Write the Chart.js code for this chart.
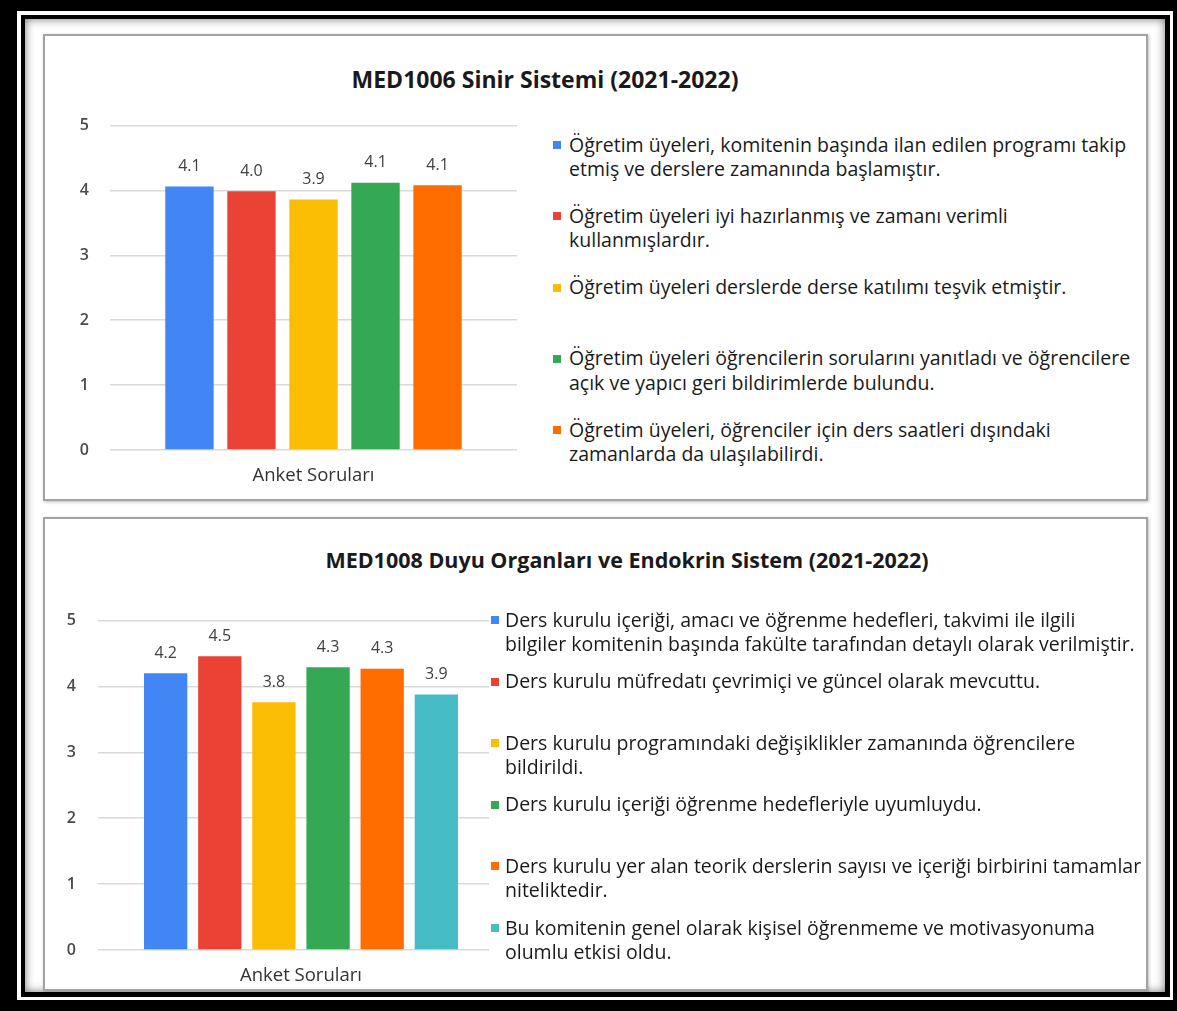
<!DOCTYPE html>
<html>
<head>
<meta charset="utf-8">
<script src="https://cdn.jsdelivr.net/npm/chart.js@4.4.1/dist/chart.umd.min.js"></script>
<style>
  html, body { margin:0; padding:0; }
  body { width:1177px; height:1011px; background:#000; position:relative; overflow:hidden; font-family: "Open Sans", Lato, sans-serif; }
  .abs { position:absolute; }
  .frame1 { left:17px; top:11px; width:1156px; height:989px; background:#fff; }
  .frame2 { left:21px; top:15px; width:1149px; height:982px; background:#000; }
  .inner { left:25px; top:19px; width:1140px; height:973px; background:#fff; box-shadow: inset 0 0 10px rgba(0,0,0,0.55); }
  .panel { box-sizing:border-box; border:2px solid #a3a3a3; background:#fff; box-shadow: 1px 1px 3px rgba(0,0,0,0.25); }
  .title { font-weight:700; color:#1a1a1a; white-space:nowrap; transform:translateX(-50%); }
  .leg { font-size:19.5px; color:#1a1a1a; white-space:pre; line-height:24.5px; }
  .sq { width:8px; height:8px; }
</style>
</head>
<body>
<div class="abs frame1"></div>
<div class="abs frame2"></div>
<div class="abs inner"></div>
<div class="abs panel" style="left:43px;top:34px;width:1105px;height:467px;"></div>
<div class="abs panel" style="left:43px;top:517px;width:1105px;height:474px;"></div>

<div class="abs title" id="t1" style="left:545px;top:63px;font-size:23px;"></div>
<div class="abs title" id="t2" style="left:627px;top:545px;font-size:21.5px;"></div>

<canvas id="c1" class="abs" style="left:45px;top:95px;" width="490" height="400"></canvas>
<canvas id="c2" class="abs" style="left:45px;top:589px;" width="480" height="396"></canvas>

<div class="abs" style="left:489px;top:600px;width:40px;height:380px;background:#fff;"></div>
<div id="leg1"></div>
<div id="leg2"></div>

<script>
// ---- Data ----
const title1 = "MED1006 Sinir Sistemi (2021-2022)";
const title2 = "MED1008 Duyu Organları ve Endokrin Sistem (2021-2022)";
const categoryLabel = ["Anket Soruları"];
const yTicks = [0, 1, 2, 3, 4, 5];

const questions1 = [
  "Öğretim üyeleri, komitenin başında ilan edilen programı takip\netmiş ve derslere zamanında başlamıştır.",
  "Öğretim üyeleri iyi hazırlanmış ve zamanı verimli\nkullanmışlardır.",
  "Öğretim üyeleri derslerde derse katılımı teşvik etmiştir.",
  "Öğretim üyeleri öğrencilerin sorularını yanıtladı ve öğrencilere\naçık ve yapıcı geri bildirimlerde bulundu.",
  "Öğretim üyeleri, öğrenciler için ders saatleri dışındaki\nzamanlarda da ulaşılabilirdi."
];
const values1 = [4.06, 3.99, 3.86, 4.12, 4.08];

const questions2 = [
  "Ders kurulu içeriği, amacı ve öğrenme hedefleri, takvimi ile ilgili\nbilgiler komitenin başında fakülte tarafından detaylı olarak verilmiştir.",
  "Ders kurulu müfredatı çevrimiçi ve güncel olarak mevcuttu.",
  "Ders kurulu programındaki değişiklikler zamanında öğrencilere\nbildirildi.",
  "Ders kurulu içeriği öğrenme hedefleriyle uyumluydu.",
  "Ders kurulu yer alan teorik derslerin sayısı ve içeriği birbirini tamamlar\nniteliktedir.",
  "Bu komitenin genel olarak kişisel öğrenmeme ve motivasyonuma\nolumlu etkisi oldu."
];
const values2 = [4.20, 4.46, 3.76, 4.29, 4.27, 3.88];

const colors = ["#4285F4", "#EA4335", "#FBBC04", "#34A853", "#FF6D01", "#46BDC6"];

// ---- Titles ----
document.getElementById('t1').textContent = title1;
document.getElementById('t2').textContent = title2;

// ---- Legends (HTML) ----
function buildLegend(id, texts, sqLeft, textLeft, firstY, step) {
  const host = document.getElementById(id);
  texts.forEach((t, i) => {
    const y = firstY + i * step;
    const sq = document.createElement('div');
    sq.className = 'abs sq';
    sq.style.left = sqLeft + 'px';
    sq.style.top = (y - 4) + 'px';
    sq.style.background = colors[i];
    host.appendChild(sq);
    const tx = document.createElement('div');
    tx.className = 'abs leg';
    tx.style.left = textLeft + 'px';
    tx.style.top = (y - 12.5) + 'px';
    tx.textContent = t;
    host.appendChild(tx);
  });
}

const FONT = '"Open Sans", Lato, sans-serif';

// ---- Data labels plugin ----
const valueLabels = {
  id: 'valueLabels',
  afterDatasetsDraw(chart) {
    const ctx = chart.ctx;
    ctx.save();
    ctx.font = '16px ' + FONT;
    ctx.fillStyle = '#404040';
    ctx.textAlign = 'center';
    ctx.textBaseline = 'middle';
    chart.data.datasets.forEach((ds, i) => {
      const meta = chart.getDatasetMeta(i);
      meta.data.forEach((bar, j) => {
        ctx.fillText(ds.data[j].toFixed(1), bar.x, bar.y - 20);
      });
    });
    ctx.restore();
  }
};

function makeChart(canvasId, texts, values, opt) {
  const datasets = values.map((v, i) => ({
    label: texts[i],
    data: [v],
    backgroundColor: colors[i],
    borderWidth: 0,
    categoryPercentage: opt.catPct,
    barPercentage: opt.barPct
  }));
  return new Chart(document.getElementById(canvasId), {
    type: 'bar',
    data: { labels: categoryLabel, datasets },
    plugins: [valueLabels],
    options: {
      responsive: false,
      animation: false,
      events: [],
      layout: { padding: { left: 0, right: opt.padRight, top: opt.padTop, bottom: 0 } },
      plugins: { legend: { display: false }, title: { display: false }, tooltip: { enabled: false } },
      scales: {
        x: {
          grid: { display: false, drawTicks: false },
          border: { display: false },
          ticks: { color: '#333333', font: { family: FONT, size: 18.5 }, padding: opt.xPad },
          afterFit(s) { s.height = opt.xHeight; }
        },
        y: {
          min: 0, max: 5,
          afterBuildTicks(s) { s.ticks = yTicks.map(v => ({ value: v })); },
          grid: { color: '#d9d9d9', lineWidth: 1.5, drawTicks: false },
          border: { display: false },
          ticks: { color: '#4a4a4a', font: { family: FONT, size: 16, weight: '600' }, padding: opt.yPad },
          afterFit(s) { s.width = opt.yWidth; }
        }
      }
    }
  });
}

buildLegend('leg1', questions1, 553, 569, 145, 71.3);
buildLegend('leg2', questions2, 491, 505, 620, 61.6);

makeChart('c1', questions1, values1, { catPct: 0.762, barPct: 0.78, padRight: 18, padTop: 20, xPad: 15, xHeight: 45, yPad: 21, yWidth: 65 });
makeChart('c2', questions2, values2, { catPct: 0.80, barPct: 0.80, padRight: 21, padTop: 17, xPad: 15, xHeight: 35, yPad: 22, yWidth: 53 });
</script>
</body>
</html>
